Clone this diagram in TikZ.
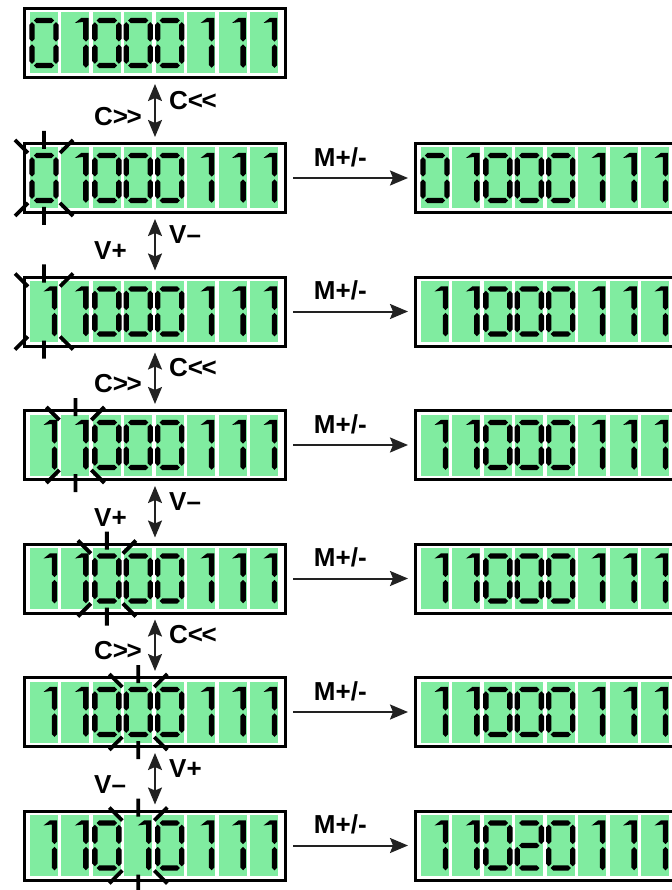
\documentclass[tikz,border=0pt]{standalone}
\usepackage{fontspec}
\setmainfont{Liberation Sans}
\usepackage{tikz}
\usetikzlibrary{arrows.meta, positioning}
\definecolor{lcdgreen}{RGB}{128,236,160}
\definecolor{arrowgray}{HTML}{222222}
\tikzset{
  % LCD frame
  display/.style={
    rectangle, draw=black, fill=white, line width=3pt,
    minimum width=261pt, minimum height=69pt, inner sep=0pt,
  },
  % blinking cursor marks
  blink/.style={line width=3.8pt, black},
  % Arrows
  myarrow/.style={-{Stealth[length=18pt, width=15pt, inset=3pt]}, line width=2pt,
    arrowgray, shorten >=6pt, shorten <=6pt},
  biarrow/.style={{Stealth[length=17pt, width=14pt, inset=3pt]}-{Stealth[length=17pt, width=14pt, inset=3pt]},
    line width=2pt, arrowgray, shorten >=5pt, shorten <=5pt},
  % key labels
  keylabel/.style={font=\fontsize{26}{30}\selectfont\bfseries, inner sep=0pt, text=black},
}
% segments of one digit, digit centre at (0,0)
\newcommand\segH[1]{\fill (-10.2,#1) -- (-7.5,#1-2.7) -- (7.5,#1-2.7) -- (10.2,#1) -- (7.5,#1+2.7) -- (-7.5,#1+2.7) -- cycle;}
\newcommand\segV[3]{\fill (#1,#2) -- (#1+2.7,#2+2.7) -- (#1+2.7,#3-2.7) -- (#1,#3) -- (#1-2.7,#3-2.7) -- (#1-2.7,#2+2.7) -- cycle;}
\newcommand\lcddigit[1]{%
  \ifcase#1\relax
    \segH{-22.5}\segH{22.5}\segV{-12}{-20.8}{-1.4}\segV{-12}{1.4}{20.8}\segV{12}{-20.8}{-1.4}\segV{12}{1.4}{20.8}%
  \or
    \fill (-0.5,-20) -- (6,-25.2) -- (13.2,-25.2) -- (13.2,-4.1) -- (10.5,-1.4) -- (7.8,-4.1) -- (7.8,-20.8) -- (5.5,-20.8) -- cycle;
    \segV{10.5}{1.4}{24.8}%
  \or
    \segH{-22.5}\segH{0}\segH{22.5}\segV{12}{-20.8}{-1.4}\segV{-12}{1.4}{20.8}%
  \fi}
% the eight cells of a display
\newcommand\lcdcells[2]{%
  \begin{scope}[shift={(#1.center)}]
    \foreach \d [count=\i] in {#2} {
      \begin{scope}[shift={({31.43*\i-142.43},0)}]
        \fill[lcdgreen] (-14,-30.5) rectangle (14,30.5);
        \lcddigit{\d}
      \end{scope}
    }
  \end{scope}}
% blinking cell
\newcommand\blinkcell[2]{%
  \begin{scope}[shift={(#1.center)}, shift={({31.43*#2-142.43},0)}]
    \draw[blink] (0,-47) -- (0,-29) (0,29) -- (0,47)
      (-16,-25) -- (-29,-38) (16,-25) -- (29,-38)
      (-16,25) -- (-29,38) (16,25) -- (29,38);
  \end{scope}}

\begin{document}
\begin{tikzpicture}[x=1pt, y=-1pt]
  \useasboundingbox (0,0) rectangle (671,890);

  % Left column: display while editing
  \node[display] (L1) at (155,43) {};
  \node[display] (L2) at (155,178) {};
  \node[display] (L3) at (155,311.5) {};
  \node[display] (L4) at (155,445) {};
  \node[display] (L5) at (155,578.5) {};
  \node[display] (L6) at (155,712) {};
  \node[display] (L7) at (155,845.5) {};

  % Right column: stored value
  \node[display] (R2) at (546,178) {};
  \node[display] (R3) at (546,311.5) {};
  \node[display] (R4) at (546,445) {};
  \node[display] (R5) at (546,578.5) {};
  \node[display] (R6) at (546,712) {};
  \node[display] (R7) at (546,845.5) {};

  % Digits
  \lcdcells{L1}{0,1,0,0,0,1,1,1}
  \lcdcells{L2}{0,1,0,0,0,1,1,1}
  \lcdcells{L3}{1,1,0,0,0,1,1,1}
  \lcdcells{L4}{1,1,0,0,0,1,1,1}
  \lcdcells{L5}{1,1,0,0,0,1,1,1}
  \lcdcells{L6}{1,1,0,0,0,1,1,1}
  \lcdcells{L7}{1,1,0,1,0,1,1,1}
  \lcdcells{R2}{0,1,0,0,0,1,1,1}
  \lcdcells{R3}{1,1,0,0,0,1,1,1}
  \lcdcells{R4}{1,1,0,0,0,1,1,1}
  \lcdcells{R5}{1,1,0,0,0,1,1,1}
  \lcdcells{R6}{1,1,0,0,0,1,1,1}
  \lcdcells{R7}{1,1,0,2,0,1,1,1}

  % Blinking cursor
  \blinkcell{L2}{1}
  \blinkcell{L3}{1}
  \blinkcell{L4}{2}
  \blinkcell{L5}{3}
  \blinkcell{L6}{4}
  \blinkcell{L7}{4}

  % Key steps
  \draw[biarrow] (L1) -- (L2);
  \node[keylabel, anchor=west] (k1a) at (169,100.5) {C<\kern-1.5pt<};
  \node[keylabel, anchor=west] (k1b) at (94,116.5) {C>\kern-1.5pt>};
  \draw[biarrow] (L2) -- (L3);
  \node[keylabel, anchor=west] (k2a) at (169,235) {V–};
  \node[keylabel, anchor=west] (k2b) at (94,251) {V+};
  \draw[biarrow] (L3) -- (L4);
  \node[keylabel, anchor=west] (k3a) at (169,368) {C<\kern-1.5pt<};
  \node[keylabel, anchor=west] (k3b) at (94,384) {C>\kern-1.5pt>};
  \draw[biarrow] (L4) -- (L5);
  \node[keylabel, anchor=west] (k4a) at (169,502) {V–};
  \node[keylabel, anchor=west] (k4b) at (94,518) {V+};
  \draw[biarrow] (L5) -- (L6);
  \node[keylabel, anchor=west] (k5a) at (169,635) {C<\kern-1.5pt<};
  \node[keylabel, anchor=west] (k5b) at (94,651) {C>\kern-1.5pt>};
  \draw[biarrow] (L6) -- (L7);
  \node[keylabel, anchor=west] (k6a) at (169,769) {V+};
  \node[keylabel, anchor=west] (k6b) at (94,785) {V–};

  % M+/- arrows
  \draw[myarrow] (L2) -- node[keylabel, pos=0.42, above=10pt] (m2) {M+/-} (R2);
  \draw[myarrow] (L3) -- node[keylabel, pos=0.42, above=10pt] (m3) {M+/-} (R3);
  \draw[myarrow] (L4) -- node[keylabel, pos=0.42, above=10pt] (m4) {M+/-} (R4);
  \draw[myarrow] (L5) -- node[keylabel, pos=0.42, above=10pt] (m5) {M+/-} (R5);
  \draw[myarrow] (L6) -- node[keylabel, pos=0.42, above=10pt] (m6) {M+/-} (R6);
  \draw[myarrow] (L7) -- node[keylabel, pos=0.42, above=10pt] (m7) {M+/-} (R7);

\end{tikzpicture}
\end{document}
